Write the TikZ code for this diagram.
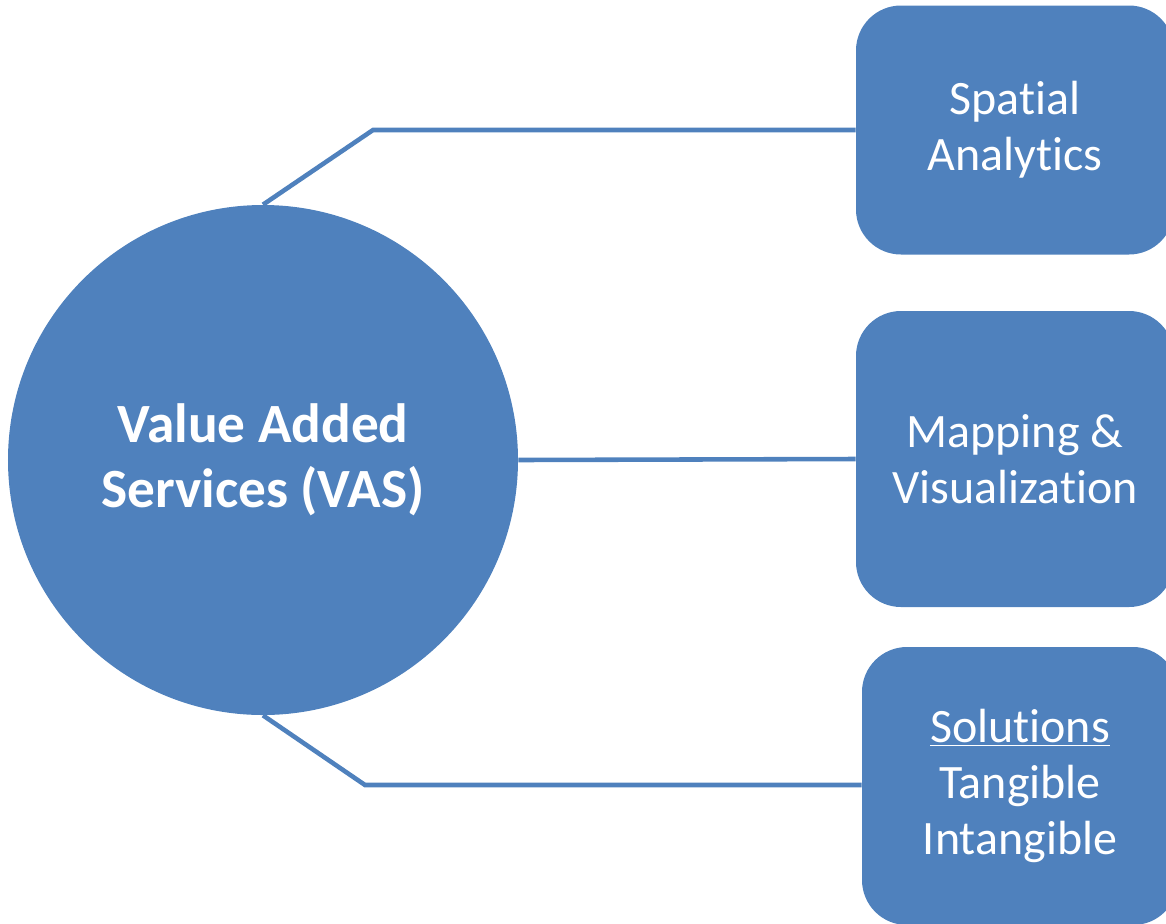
\documentclass[tikz,border=0pt]{standalone}
\usepackage{fontspec}
\setmainfont{Carlito}[RawFeature={-liga;-clig;-dlig;-calt}]
\usepackage{xcolor}
\usetikzlibrary{positioning, calc}
\definecolor{vasblue}{RGB}{79, 129, 189}

\begin{document}
\begin{tikzpicture}[
    hub/.style={circle, fill=vasblue, text=white, minimum size=10.2cm, inner sep=0pt,
                align=center, font=\fontsize{31.5}{37}\selectfont\bfseries},
    card/.style={rectangle, rounded corners=0.9cm, fill=vasblue, text=white,
                 minimum width=6.36cm, align=center, font=\fontsize{27.3}{31.9}\selectfont},
    link/.style={draw=vasblue, line width=2.6pt}]

    \useasboundingbox (0,0) rectangle (23.32,-18.46);

    % Centre
    \node[hub] (vas) at (5.26, -9.2) {Value Added\\Services (VAS)};

    % Services
    \node[card, minimum height=4.98cm] (spatial) at (20.3, -2.6) {Spatial\\Analytics};
    \node[card, minimum height=5.92cm] (mapping) at (20.3, -9.18) {Mapping \&\\Visualization};
    \node[card, minimum height=5.56cm, minimum width=6.32cm] (solutions) at (20.4, -15.72)
        {\underline{Solutions}\\Tangible\\Intangible};

    % Bends
    \coordinate (topbend) at (7.46, -2.6);
    \coordinate (lowbend) at (7.3, -15.7);

    % Connections
    \draw[link] (vas.north) -- (topbend) -- (spatial.west);
    \draw[link] (vas.east) -- (mapping.west);
    \draw[link] (vas.south) -- (lowbend) -- (lowbend -| solutions.west);
\end{tikzpicture}
\end{document}
